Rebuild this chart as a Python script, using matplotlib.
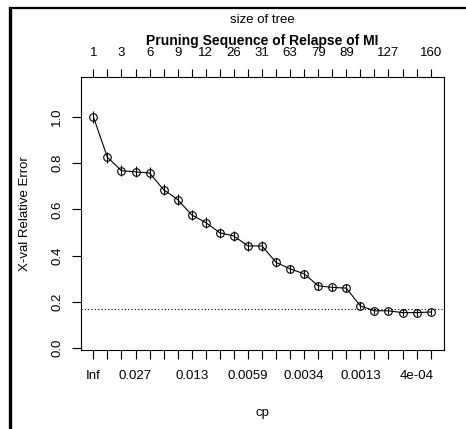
import matplotlib
matplotlib.use("Agg")
import matplotlib.pyplot as plt
from matplotlib.lines import Line2D
import numpy as np

plt.rcParams['font.family'] = ['Liberation Sans', 'DejaVu Sans']

# cross-validated relative error for each step of the pruning sequence
xerror = [1.000, 0.825, 0.767, 0.762, 0.757, 0.685, 0.642, 0.576, 0.543, 0.499,
          0.485, 0.442, 0.442, 0.371, 0.343, 0.322, 0.270, 0.263, 0.260, 0.183,
          0.162, 0.162, 0.154, 0.154, 0.157]
xstd = [0.025, 0.024, 0.024, 0.024, 0.024, 0.023, 0.023, 0.022, 0.022, 0.021,
        0.021, 0.020, 0.020, 0.019, 0.018, 0.018, 0.017, 0.016, 0.016, 0.015,
        0.014, 0.014, 0.014, 0.014, 0.014]
min_line = 0.168

# labels that R managed to fit (blank = skipped)
size_labels = ['1', '', '3', '', '6', '', '9', '', '12', '', '26', '', '31', '',
               '63', '', '79', '', '89', '', '', '127', '', '', '160']
cp_labels = ['Inf', '', '', '0.027', '', '', '', '0.013', '', '', '', '0.0059', '',
             '', '', '0.0034', '', '', '', '0.0013', '', '', '', '4e-04', '']

W, H = 466, 429
fig = plt.figure(figsize=(W / 100, H / 100), dpi=100)
ax = fig.add_axes([80.7 / W, 1 - 350 / H, (444 - 80.7) / W, (350 - 76.7) / H])

x = np.arange(len(xerror))
ax.vlines(x, np.array(xerror) - np.array(xstd), np.array(xerror) + np.array(xstd),
          color='black', lw=0.8)
ax.plot(x, xerror, color='black', lw=0.8, marker='o', markersize=5.5,
        markerfacecolor='none', markeredgecolor='black', markeredgewidth=0.8)
ax.axhline(min_line, color='black', lw=0.8, linestyle=(0, (1, 2)))

ax.set_xlim(-0.9, 24.95)
ax.set_ylim(-0.0073, 1.173)

ax.set_xticks(x)
ax.set_xticklabels(cp_labels)
ax.set_yticks([0.0, 0.2, 0.4, 0.6, 0.8, 1.0])
ax.set_yticklabels(['0.0', '0.2', '0.4', '0.6', '0.8', '1.0'], rotation=90, va='center')
ax.tick_params(axis='both', direction='out', length=6.5, width=0.8, labelsize=9.5, pad=8)
ax.tick_params(axis='y', pad=6)

top = ax.secondary_xaxis('top')
top.set_xticks(x)
top.set_xticklabels(size_labels)
top.tick_params(direction='out', length=6, width=0.8, labelsize=9.5, pad=7)
top.spines['top'].set_visible(False)

for s in ax.spines.values():
    s.set_linewidth(0.8)

ax.set_xlabel('cp', fontsize=9.5, labelpad=18)
ax.set_ylabel('X-val Relative Error', fontsize=9.5, labelpad=15)
fig.text(262 / W, 1 - 40.5 / H, 'Pruning Sequence of Relapse of MI', ha='center',
         va='center', fontsize=10, fontweight='bold')
fig.text(262 / W, 1 - 20 / H, 'size of tree', ha='center', va='center', fontsize=9.5)

# screenshot frame on the left and top edges
fig.add_artist(Line2D([10 / W, 10 / W], [0, 1 - 7 / H], color='black', lw=2.4,
                      transform=fig.transFigure, solid_capstyle='butt'))
fig.add_artist(Line2D([8.5 / W, 1], [1 - 8.2 / H, 1 - 8.2 / H], color='black', lw=1.6,
                      transform=fig.transFigure, solid_capstyle='butt'))

fig.savefig('out.png', dpi=100)
